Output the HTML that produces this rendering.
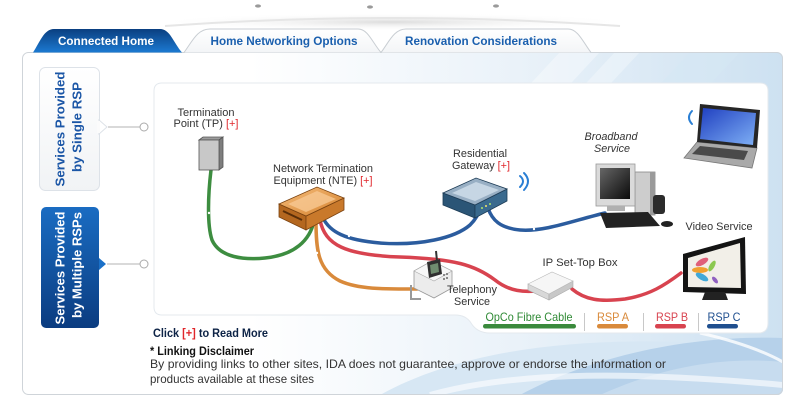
<!DOCTYPE html>
<html><head><meta charset="utf-8"><style>
html,body{margin:0;padding:0;background:#fff;width:808px;height:415px;overflow:hidden}
svg{display:block}
text{font-family:"Liberation Sans",Arial,sans-serif}
</style></head><body>
<svg width="808" height="415" viewBox="0 0 808 415" xmlns="http://www.w3.org/2000/svg">
<defs>
<linearGradient id="bg" x1="0" y1="0" x2="1" y2="0">
<stop offset="0" stop-color="#ffffff"/><stop offset="0.3" stop-color="#ffffff"/>
<stop offset="0.65" stop-color="#eaf2f9"/><stop offset="1" stop-color="#cde1f1"/></linearGradient>
<linearGradient id="act" x1="0" y1="0" x2="0" y2="1">
<stop offset="0" stop-color="#0a3f80"/><stop offset="1" stop-color="#1c7ad2"/></linearGradient>
<linearGradient id="tab" x1="0" y1="0" x2="0" y2="1">
<stop offset="0" stop-color="#ffffff"/><stop offset="1" stop-color="#f3f5f7"/></linearGradient>
<linearGradient id="multi" x1="0" y1="0" x2="0" y2="1">
<stop offset="0" stop-color="#1a6cc2"/><stop offset="1" stop-color="#0b3c80"/></linearGradient>
<linearGradient id="single" x1="0" y1="0" x2="0" y2="1">
<stop offset="0" stop-color="#ffffff"/><stop offset="1" stop-color="#f1f3f5"/></linearGradient>
<linearGradient id="nteTop" x1="0" y1="0" x2="1" y2="1">
<stop offset="0" stop-color="#f5bd7c"/><stop offset="1" stop-color="#d5822e"/></linearGradient>
<linearGradient id="scr" x1="0" y1="0" x2="1" y2="1">
<stop offset="0" stop-color="#666"/><stop offset="1" stop-color="#0a0a0a"/></linearGradient>
<linearGradient id="lap" x1="0" y1="0" x2="1" y2="1">
<stop offset="0" stop-color="#1f3fc0"/><stop offset="1" stop-color="#7fb0f5"/></linearGradient>
<radialGradient id="shelf" cx="0.5" cy="0.5" r="0.5">
<stop offset="0" stop-color="#dcdcdc"/><stop offset="1" stop-color="#ffffff" stop-opacity="0"/></radialGradient>
<clipPath id="panel"><rect x="22" y="52" width="761" height="343" rx="6"/></clipPath>
</defs>

<!-- top ornament -->
<ellipse cx="392" cy="22" rx="240" ry="9" fill="url(#shelf)"/>
<path d="M165,26 Q392,10 620,26" stroke="#e6e6e6" stroke-width="2" fill="none"/>
<ellipse cx="258" cy="6" rx="3" ry="1.6" fill="#9a9a9a"/>
<ellipse cx="370" cy="7" rx="3" ry="1.6" fill="#9a9a9a"/>
<ellipse cx="496" cy="6" rx="3" ry="1.6" fill="#9a9a9a"/>

<!-- outer panel -->
<g clip-path="url(#panel)">
<rect x="22" y="52" width="761" height="343" fill="url(#bg)"/>
<polygon points="560,52 600,52 560,95 520,95" fill="#ffffff" opacity="0.35"/>
<polygon points="615,52 640,52 600,95 575,95" fill="#ffffff" opacity="0.3"/>
<polygon points="690,52 740,52 700,95 650,95" fill="#d6e7f4" opacity="0.6"/>
<path d="M380,395 C470,345 610,330 783,350 L783,395 Z" fill="#d7e7f4"/>
<path d="M520,395 C600,352 700,335 783,338 L783,395 Z" fill="#b6d1ea"/>
<path d="M600,395 C660,368 720,356 783,362 L783,395 Z" fill="#c7dcef"/>
<path d="M700,333 C740,342 765,352 783,362" stroke="#ffffff" stroke-width="3" fill="none" opacity="0.8"/>
<path d="M430,395 C520,370 640,372 783,385" stroke="#ffffff" stroke-width="6" fill="none" opacity="0.6"/>
</g>
<rect x="22.5" y="52.5" width="760" height="342" rx="6" fill="none" stroke="#cfd4d9"/>

<!-- tabs -->
<path d="M184,52.5 C192,42 197,29 210,29 L358,29 C368,29 372,42 381,52.5" fill="url(#tab)" stroke="#c9ced3"/>
<path d="M381,52.5 C389,42 394,29 406,29 L568,29 C578,29 583,42 591,52.5" fill="url(#tab)" stroke="#c9ced3"/>
<path d="M33,52.5 C40,42 44,29 54,29 L160,29 C170,29 173,42 182,52.5 Z" fill="url(#act)"/>
<text x="106" y="45" font-size="12" font-weight="bold" fill="#ffffff" text-anchor="middle" textLength="96" lengthAdjust="spacingAndGlyphs">Connected Home</text>
<text x="284" y="45" font-size="12" font-weight="bold" fill="#1a5fae" text-anchor="middle" textLength="147" lengthAdjust="spacingAndGlyphs">Home Networking Options</text>
<text x="481" y="45" font-size="12" font-weight="bold" fill="#1a5fae" text-anchor="middle" textLength="152" lengthAdjust="spacingAndGlyphs">Renovation Considerations</text>

<!-- left buttons -->
<rect x="39.5" y="67.5" width="60" height="123" rx="6" fill="url(#single)" stroke="#dde2e8"/>
<polygon points="99,120 107,127 99,134" fill="#ffffff" stroke="#dde2e8"/>
<rect x="97" y="121" width="3" height="12" fill="#fbfbfb"/>
<text transform="translate(64.5,129) rotate(-90)" font-size="13" font-weight="bold" fill="#1b56a6" text-anchor="middle" textLength="115" lengthAdjust="spacingAndGlyphs">Services Provided</text>
<text transform="translate(81.5,127) rotate(-90)" font-size="13" font-weight="bold" fill="#1b56a6" text-anchor="middle" textLength="90" lengthAdjust="spacingAndGlyphs">by Single RSP</text>
<line x1="108" y1="127" x2="140" y2="127" stroke="#b3b3b3"/>
<circle cx="144" cy="127" r="4" fill="#fff" stroke="#aaa"/>

<rect x="41" y="207" width="58" height="121" rx="5" fill="url(#multi)"/>
<polygon points="99,258 106,264 99,270" fill="#1a70c8"/>
<text transform="translate(64.5,268) rotate(-90)" font-size="13" font-weight="bold" fill="#ffffff" text-anchor="middle" textLength="113" lengthAdjust="spacingAndGlyphs">Services Provided</text>
<text transform="translate(81.5,265) rotate(-90)" font-size="13" font-weight="bold" fill="#ffffff" text-anchor="middle" textLength="106" lengthAdjust="spacingAndGlyphs">by Multiple RSPs</text>
<line x1="107" y1="264" x2="140" y2="264" stroke="#b3b3b3"/>
<circle cx="144" cy="264" r="4" fill="#fff" stroke="#aaa"/>

<!-- inner white panel -->
<path d="M162,83 H760 Q768,83 768,91 V323 Q768,333 758,333 H490 Q477,333 471,323 Q466,315 455,315 H162 Q154,315 154,307 V91 Q154,83 162,83 Z" fill="#ffffff" stroke="#e4e9ee"/>

<!-- cables -->
<g fill="none" stroke-width="3.5" stroke-linecap="round">
<path d="M211,170 C208,195 207,225 212,240 C220,258 245,260 265,258 C295,255 310,240 314,221" stroke="#3d8d40"/>
<path d="M316,221 C316,250 318,270 340,281 C360,290 390,289 417,289" stroke="#d98a3b"/>
<path d="M320,220 C325,245 345,255 400,257 C455,259 475,265 495,280 C510,292 525,292 537,291" stroke="#d8434f"/>
<path d="M572,289 C585,300 600,302 625,299 C650,295 665,285 681,273" stroke="#d8434f"/>
<path d="M323,218 C330,232 345,240 380,243 C420,246 455,238 470,225 C476,219 479,213 480,208" stroke="#2b5c9e"/>
<path d="M488,208 C492,220 500,228 520,230 C545,232 575,220 605,213" stroke="#2b5c9e"/>
</g>
<g fill="#fff"><circle cx="209" cy="213" r="1.2"/><circle cx="317" cy="253" r="1.2"/><circle cx="349" cy="236" r="1.2"/><circle cx="470" cy="262" r="1.2"/><circle cx="534" cy="229" r="1.2"/></g>

<!-- TP box -->
<polygon points="199,140 203,137 223,137 219,140" fill="#9c9c9c" stroke="#555" stroke-width="0.8"/>
<polygon points="219,140 223,137 223,167 219,170" fill="#7e7e7e" stroke="#555" stroke-width="0.8"/>
<rect x="199" y="140" width="20" height="30" fill="#c8c8c8" stroke="#555" stroke-width="0.8"/>

<!-- NTE -->
<polygon points="279,204 306,216 306,230 279,217" fill="#b4671f" stroke="#7a4210" stroke-width="0.8"/>
<polygon points="306,216 344,198 344,210 306,230" fill="#c9792b" stroke="#7a4210" stroke-width="0.8"/>
<polygon points="279,204 317,187 344,198 306,216" fill="url(#nteTop)" stroke="#7a4210" stroke-width="0.8"/>
<polygon points="288,204 317,191 336,199 306,212" fill="#f8c892" opacity="0.8"/>
<line x1="283" y1="211" x2="302" y2="220" stroke="#5a2e08" stroke-width="2"/>

<!-- Gateway -->
<polygon points="443,193 475,205 475,218 443,205" fill="#2b5576" stroke="#1d3c56" stroke-width="0.8"/>
<polygon points="475,205 507,189 507,201 475,218" fill="#3a6a8e" stroke="#1d3c56" stroke-width="0.8"/>
<polygon points="443,193 476,178 507,189 475,205" fill="#98afc4" stroke="#1d3c56" stroke-width="0.8"/>
<polygon points="452,193 476,182 499,190 475,201" fill="#c6d6e4"/>
<circle cx="482" cy="208" r="1" fill="#aee36b"/><circle cx="486" cy="206" r="1" fill="#f5e36b"/><circle cx="490" cy="204" r="1" fill="#aee36b"/>
<g fill="none" stroke="#2a7fd4" stroke-width="2" stroke-linecap="round">
<path d="M520,176 Q526,181 520,187"/><path d="M524,173 Q532,181 524,190"/>
<path d="M692,111 Q686,117.5 692,124"/>
</g>

<!-- Phone -->
<path d="M411,285 L411,299 L421,299" stroke="#999" stroke-width="2" fill="none"/>
<polygon points="414,271 432,261 452,271 452,288 434,298 414,288" fill="#ececec" stroke="#999" stroke-width="0.8"/>
<polygon points="414,271 432,261 452,271 434,281" fill="#f7f7f7" stroke="#aaa" stroke-width="0.6"/>
<polygon points="427,262 440,259 442,274 429,278" fill="#2f2f2f"/>
<polygon points="430,265 438,263 439,272 431,274" fill="#6f8c6f"/>
<line x1="437" y1="261" x2="436" y2="251" stroke="#333" stroke-width="2"/>
<g fill="#888"><rect x="443" y="274" width="2" height="2"/><rect x="446" y="273" width="2" height="2"/><rect x="443" y="278" width="2" height="2"/><rect x="446" y="277" width="2" height="2"/></g>

<!-- STB -->
<polygon points="528,284 549,294 549,300 528,290" fill="#d8d8d8" stroke="#aaa" stroke-width="0.6"/>
<polygon points="549,294 573,281 573,287 549,300" fill="#c8c8c8" stroke="#aaa" stroke-width="0.6"/>
<polygon points="528,284 552,272 573,281 549,294" fill="#f6f6f6" stroke="#bbb" stroke-width="0.6"/>

<!-- Computer -->
<rect x="635" y="172" width="20" height="43" fill="#cdcdcd" stroke="#888" stroke-width="0.8"/>
<rect x="650" y="172" width="5" height="43" fill="#9a9a9a"/>
<rect x="596" y="164" width="39" height="42" fill="#dadada" stroke="#999" stroke-width="0.8"/>
<rect x="600" y="168" width="30" height="31" fill="url(#scr)"/>
<rect x="607" y="206" width="18" height="5" fill="#b0b0b0"/>
<rect x="653" y="195" width="12" height="19" rx="3" fill="#2c2c2c"/>
<polygon points="600,213 648,212 660,226 606,228" fill="#222"/>
<ellipse cx="667" cy="224" rx="6" ry="3" fill="#222"/>

<!-- Laptop -->
<polygon points="697,142 757,148 752,168 684,158" fill="#a9a9a9" stroke="#777" stroke-width="0.8"/>
<polygon points="700,146 748,151 744,160 692,154" fill="#4a4a4a"/>
<polygon points="700,104 760,110 757,148 697,142" fill="#262626"/>
<polygon points="703,108 756,113 753,145 700,139" fill="url(#lap)"/>

<!-- TV -->
<polygon points="683,254 745,237 746,294 683,292" fill="#141414"/>
<polygon points="688,258 740,243 741,288 688,287" fill="#f2efe8"/>
<ellipse cx="702" cy="262" rx="7" ry="3" fill="#e0607a" transform="rotate(-30 702 262)"/>
<ellipse cx="700" cy="270" rx="8" ry="3" fill="#f0a030"/>
<ellipse cx="702" cy="277" rx="7" ry="3" fill="#40a8d8" transform="rotate(30 702 277)"/>
<ellipse cx="712" cy="266" rx="6" ry="2.5" fill="#8cc850" transform="rotate(-60 712 266)"/>
<ellipse cx="715" cy="280" rx="4" ry="2" fill="#9060c0" transform="rotate(50 715 280)"/>
<polygon points="705,292 725,292 728,300 702,300" fill="#222"/>

<!-- diagram labels -->
<g font-size="11" fill="#333" text-anchor="middle">
<text x="206" y="116" textLength="57" lengthAdjust="spacingAndGlyphs">Termination</text>
<text x="206" y="127" textLength="65" lengthAdjust="spacingAndGlyphs">Point (TP) <tspan fill="#e0262b">[+]</tspan></text>
<text x="323" y="172" textLength="100" lengthAdjust="spacingAndGlyphs">Network Termination</text>
<text x="323" y="184" textLength="99" lengthAdjust="spacingAndGlyphs">Equipment (NTE) <tspan fill="#e0262b">[+]</tspan></text>
<text x="480" y="157" textLength="54" lengthAdjust="spacingAndGlyphs">Residential</text>
<text x="481" y="169" textLength="58" lengthAdjust="spacingAndGlyphs">Gateway <tspan fill="#e0262b">[+]</tspan></text>
<text x="611" y="140" font-style="italic" textLength="53" lengthAdjust="spacingAndGlyphs">Broadband</text>
<text x="612" y="152" font-style="italic" textLength="36" lengthAdjust="spacingAndGlyphs">Service</text>
<text x="719" y="230" textLength="67" lengthAdjust="spacingAndGlyphs">Video Service</text>
<text x="580" y="266" textLength="75" lengthAdjust="spacingAndGlyphs">IP Set-Top Box</text>
<text x="472" y="293" textLength="50" lengthAdjust="spacingAndGlyphs">Telephony</text>
<text x="472" y="305" textLength="36" lengthAdjust="spacingAndGlyphs">Service</text>
</g>

<!-- legend -->
<g font-size="12" text-anchor="middle">
<text x="529" y="321" fill="#2f8a35" textLength="87" lengthAdjust="spacingAndGlyphs">OpCo Fibre Cable</text>
<text x="613" y="321" fill="#d98a3b" textLength="32" lengthAdjust="spacingAndGlyphs">RSP A</text>
<text x="672" y="321" fill="#d8434f" textLength="32" lengthAdjust="spacingAndGlyphs">RSP B</text>
<text x="724" y="321" fill="#1f4f8f" textLength="33" lengthAdjust="spacingAndGlyphs">RSP C</text>
</g>
<rect x="483" y="324" width="93" height="4.5" rx="2.2" fill="#3a8a3c"/>
<rect x="597" y="324" width="31" height="4.5" rx="2.2" fill="#d98a3b"/>
<rect x="655" y="324" width="31" height="4.5" rx="2.2" fill="#d8434f"/>
<rect x="707" y="324" width="31" height="4.5" rx="2.2" fill="#1f4f8f"/>
<g stroke="#c8c8c8"><line x1="584.5" y1="313" x2="584.5" y2="331"/><line x1="643.5" y1="313" x2="643.5" y2="331"/><line x1="698.5" y1="313" x2="698.5" y2="331"/></g>

<!-- bottom text -->
<text x="153" y="337" font-size="12" font-weight="bold" fill="#0d2346" textLength="115" lengthAdjust="spacingAndGlyphs">Click <tspan fill="#e0262b">[+]</tspan> to Read More</text>
<text x="150" y="355" font-size="12" font-weight="bold" fill="#111" textLength="104" lengthAdjust="spacingAndGlyphs">* Linking Disclaimer</text>
<text x="150" y="368" font-size="12" fill="#333" textLength="516" lengthAdjust="spacingAndGlyphs">By providing links to other sites, IDA does not guarantee, approve or endorse the information or</text>
<text x="150" y="383" font-size="12" fill="#333" textLength="164" lengthAdjust="spacingAndGlyphs">products available at these sites</text>
</svg>
</body></html>
